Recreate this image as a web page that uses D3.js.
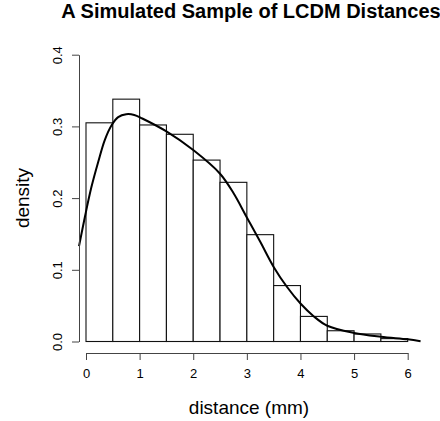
<!DOCTYPE html>
<html>
<head>
<meta charset="utf-8">
<script src="https://cdn.jsdelivr.net/npm/d3@7"></script>
<style>
  body { margin: 0; background: #fff; }
  text { font-family: "Liberation Sans", Arial, Helvetica, sans-serif; fill: #000; }
</style>
</head>
<body>
<div id="chartid"></div>
<script>
"use strict"

// histogram bins (left edges, width 0.5) and their densities
var binStart = [0, 0.5, 1, 1.5, 2, 2.5, 3, 3.5, 4, 4.5, 5, 5.5];
var binDensity = [0.305, 0.338, 0.302, 0.289, 0.253, 0.222, 0.149, 0.078, 0.035, 0.015, 0.0105, 0.004];
var binWidth = 0.5;

// smooth density curve
var curveX = [-0.13, -0.02, 0.1, 0.23, 0.35, 0.48, 0.6, 0.75, 0.9, 1.05, 1.5, 2, 2.5, 2.75, 3, 3.25, 3.5, 3.75, 4, 4.25, 4.5, 5, 5.5, 6, 6.24];
var curveY = [0.133, 0.174, 0.215, 0.251, 0.281, 0.302, 0.313, 0.317, 0.316, 0.311, 0.293, 0.267, 0.234, 0.207, 0.173, 0.139, 0.104, 0.076, 0.053, 0.035, 0.022, 0.012, 0.0067, 0.003, 0.0005];

var xTicks = [0, 1, 2, 3, 4, 5, 6];
var yTicks = [0, 0.1, 0.2, 0.3, 0.4];

function createChart(){
  var svg = d3.select("#chartid").append("svg")
    .attr("width", 440)
    .attr("height", 421);

  var x = d3.scaleLinear()
    .domain([0, 6])
    .range([86, 407.7]);

  var y = d3.scaleLinear()
    .domain([0, 0.4])
    .range([341.5, 54.7]);

  // bars
  svg.append("g").selectAll("rect")
    .data(binStart)
    .enter().append("rect")
    .attr("x", function(d) { return x(d); })
    .attr("y", function(d, i) { return y(binDensity[i]); })
    .attr("width", function(d) { return x(d + binWidth) - x(d); })
    .attr("height", function(d, i) { return y(0) - y(binDensity[i]); })
    .attr("fill", "#fff")
    .attr("stroke", "#111")
    .attr("stroke-width", 1.1);

  // density line
  var pts = curveX.map(function(v, i) { return [v, curveY[i]]; });
  svg.append("path")
    .datum(pts)
    .attr("fill", "none")
    .attr("stroke", "#000")
    .attr("stroke-width", 2)
    .attr("d", d3.line()
      .curve(d3.curveCatmullRom.alpha(0.5))
      .x(function(d) { return x(d[0]); })
      .y(function(d) { return y(d[1]); }));

  // x axis
  var xAxis = d3.axisBottom(x)
    .tickValues(xTicks)
    .tickSize(7)
    .tickSizeOuter(0)
    .tickPadding(9)
    .tickFormat(d3.format("d"));
  var gx = svg.append("g")
    .attr("transform", "translate(0,353)")
    .call(xAxis);
  gx.selectAll("path, line").attr("stroke", "#444");
  gx.selectAll("text")
    .style("font-size", "13px")
    .style("font-family", "'Liberation Sans', Arial, sans-serif");

  // y axis, labels turned like R
  var yAxis = d3.axisLeft(y)
    .tickValues(yTicks)
    .tickSize(7)
    .tickSizeOuter(0)
    .tickFormat(d3.format(".1f"));
  var gy = svg.append("g")
    .attr("transform", "translate(79,0)")
    .call(yAxis);
  gy.selectAll("path, line").attr("stroke", "#444");
  gy.selectAll("text")
    .attr("transform", "rotate(-90)")
    .attr("x", 0)
    .attr("y", -17)
    .attr("dy", null)
    .attr("text-anchor", "middle")
    .style("font-size", "13px")
    .style("font-family", "'Liberation Sans', Arial, sans-serif");

  // titles
  svg.append("text")
    .attr("x", 251)
    .attr("y", 18)
    .attr("text-anchor", "middle")
    .style("font-size", "20px")
    .style("font-weight", "bold")
    .text("A Simulated Sample of LCDM Distances");

  svg.append("text")
    .attr("x", 249)
    .attr("y", 414)
    .attr("text-anchor", "middle")
    .style("font-size", "19px")
    .text("distance (mm)");

  svg.append("text")
    .attr("transform", "translate(29,198) rotate(-90)")
    .attr("text-anchor", "middle")
    .style("font-size", "19px")
    .text("density");
}

createChart();
</script>
</body>
</html>
